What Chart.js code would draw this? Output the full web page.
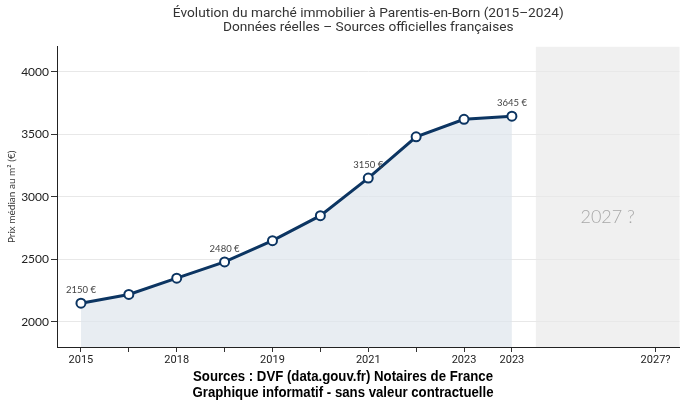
<!DOCTYPE html>
<html lang="fr">
<head>
<meta charset="UTF-8">
<title>Parentis-en-Born</title>
<style>
  body { margin: 0; background: #fff; }
  #wrap { width: 686px; height: 400px; }
</style>
</head>
<body>
<div id="wrap"><canvas id="myChart"></canvas></div>

<script src="https://cdn.jsdelivr.net/npm/chart.js"></script>
<script>
// donnees
const years = [2015, 2016, 2017, 2018, 2019, 2020, 2021, 2022, 2023, 2024]
const prices = [2150, 2220, 2350, 2480, 2650, 2850, 3150, 3480, 3620, 3645]
const labelledPoints = [0, 3, 6, 9]
const tickPositions = [0, 1, 2, 3, 4, 5, 6, 7, 8, 9, 12]
const tickLabels = ['2015', '', '2018', '', '2019', '', '2021', '', '2023', '2023', '2027?']
const yTicks = [2000, 2500, 3000, 3500, 4000]
const futureZone = { from: 9.5, label: '2027 ?', labelX: 11, labelY: 2840 }
const captionLines = ['Sources : DVF (data.gouv.fr) Notaires de France', 'Graphique informatif - sans valeur contractuelle']

const zonePlugin = {
    id: 'zone',
    beforeDraw(chart) {
        const { ctx, chartArea, scales } = chart
        const x0 = scales.x.getPixelForValue(futureZone.from)
        ctx.save()
        ctx.fillStyle = '#f0f0f0'
        ctx.fillRect(x0, chartArea.top, chartArea.right - x0, chartArea.bottom - chartArea.top)
        ctx.restore()
    },
    afterDatasetsDraw(chart) {
        const { ctx, scales } = chart
        ctx.save()
        ctx.fillStyle = '#a8a8a8'
        ctx.font = '300 18px Lato, sans-serif'
        ctx.textAlign = 'center'
        ctx.textBaseline = 'middle'
        ctx.fillText(futureZone.label, scales.x.getPixelForValue(futureZone.labelX), scales.y.getPixelForValue(futureZone.labelY))

        // etiquettes de prix
        const meta = chart.getDatasetMeta(0)
        ctx.fillStyle = '#444'
        ctx.font = '9.5px Lato, sans-serif'
        labelledPoints.forEach(i => {
            const pt = meta.data[i]
            ctx.fillText(prices[i] + ' €', pt.x, pt.y - 13)
        })
        ctx.restore()
    },
    afterDraw(chart) {
        // legende du bas, police etroite simulee
        const { ctx, width } = chart
        ctx.save()
        ctx.fillStyle = '#000'
        ctx.font = 'bold 15px "Liberation Sans", Arial, sans-serif'
        ctx.textAlign = 'center'
        ctx.textBaseline = 'middle'
        const k = 300 / ctx.measureText(captionLines[0]).width
        ctx.translate(width / 2, 0)
        ctx.scale(k, 1)
        ctx.fillText(captionLines[0], 0, 377)
        ctx.fillText(captionLines[1], 0, 393)
        ctx.restore()
    }
}

const ctx = document.getElementById('myChart')
const myChart = new Chart(ctx, {
    type: 'line',
    data: {
        datasets: [{
            data: prices.map((p, i) => ({ x: i, y: p })),
            borderColor: '#0c3562',
            borderWidth: 3,
            backgroundColor: 'rgba(222,229,237,0.7)',
            fill: 'start',
            tension: 0,
            pointRadius: 4.5,
            pointBackgroundColor: '#fff',
            pointBorderColor: '#0c3562',
            pointBorderWidth: 2
        }]
    },
    plugins: [zonePlugin],
    options: {
        responsive: true,
        maintainAspectRatio: false,
        animation: false,
        layout: { padding: { top: 0, right: 6, bottom: 32, left: 0 } },
        plugins: {
            legend: { display: false },
            tooltip: { enabled: false },
            title: {
                display: true,
                fullSize: false,
                text: ['Évolution du marché immobilier à Parentis-en-Born (2015–2024)', 'Données réelles – Sources officielles françaises'],
                color: '#333',
                font: { family: 'Roboto, sans-serif', size: 13.7, weight: 'normal', lineHeight: 1.05 },
                padding: { top: 6, bottom: 12 }
            }
        },
        scales: {
            x: {
                type: 'linear',
                min: -0.5,
                max: 12.5,
                afterBuildTicks: scale => { scale.ticks = tickPositions.map(v => ({ value: v })) },
                afterFit: scale => { scale.height = 21 },
                ticks: {
                    autoSkip: false,
                    maxRotation: 0,
                    padding: 2,
                    color: '#222',
                    font: { family: 'Roboto, sans-serif', size: 11 },
                    callback: (v, i) => tickLabels[i]
                },
                grid: { drawOnChartArea: false, drawTicks: true, tickLength: 5, tickColor: '#333' },
                border: { color: '#222', width: 1 }
            },
            y: {
                min: 1800,
                max: 4200,
                afterBuildTicks: scale => { scale.ticks = yTicks.map(v => ({ value: v })) },
                afterFit: scale => { scale.width = 57 },
                ticks: {
                    padding: 2,
                    color: '#222',
                    font: { family: 'Lato, sans-serif', size: 12 },
                    callback: v => String(v)
                },
                grid: { color: '#e8e8e8', tickColor: '#333', tickLength: 6 },
                border: { color: '#222', width: 1 },
                title: {
                    display: true,
                    text: 'Prix médian au m² (€)',
                    color: '#333',
                    font: { family: 'Lato, sans-serif', size: 10 },
                    padding: { top: 6, bottom: 0 }
                }
            }
        }
    }
})
</script>
</body>
</html>
